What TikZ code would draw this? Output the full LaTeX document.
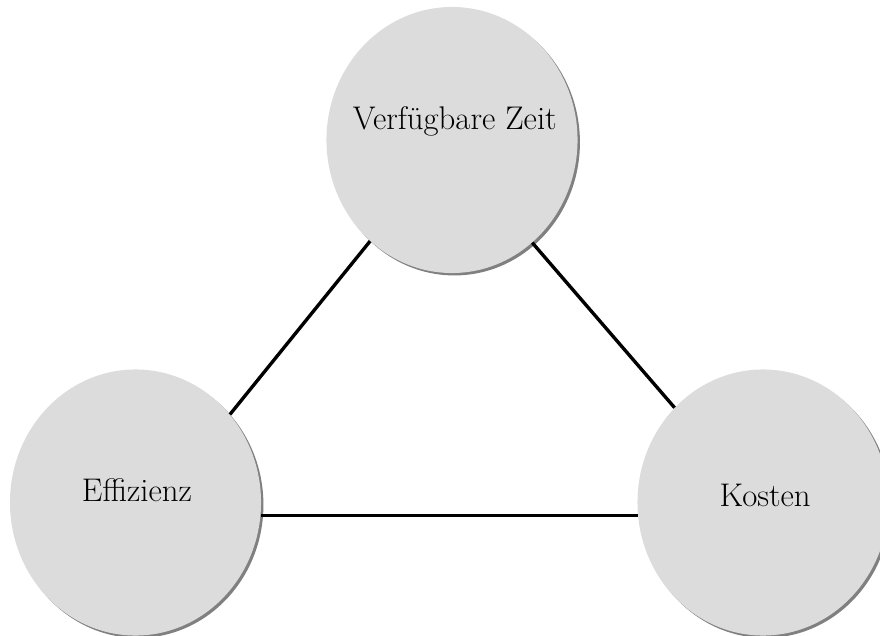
\documentclass[tikz,border=0pt]{standalone}
\usepackage{fontspec}
\usetikzlibrary{shapes.geometric,shadows}
\definecolor{ballgray}{HTML}{DCDCDC}
\begin{document}
\begin{tikzpicture}[x=0.025cm,y=-0.025cm,font=\fontsize{23.3}{28}\selectfont,link/.style={draw,line width=2.4pt}]
% Node style for the three balls
\tikzstyle{ball}=[ellipse,fill=ballgray,inner sep=0,minimum width=6.275cm,minimum height=6.65cm,drop shadow={shadow xshift=0.06cm,shadow yshift=-0.06cm,fill=black!50,opacity=1}];
\useasboundingbox (0,0) rectangle (880,636);
% The balls
\node(zeit)[ball,label={[xshift=2pt,yshift=13.6pt]center:Verfügbare Zeit}] at (452,140){};
\node(eff)[ball,label={[xshift=1pt,yshift=8.8pt]center:Effizienz}] at (135.5,502.5){};
\node(kost)[ball,label={[xshift=1.5pt,yshift=4.75pt]center:Kosten}] at (763,502.5){};
% The links
\draw[link](zeit.231.7)--(eff.43.7);
\draw[link](zeit.308.3)--(kost.133.6);
\draw[link](eff.-6.2)--(kost.186.2);
\end{tikzpicture}
\end{document}
